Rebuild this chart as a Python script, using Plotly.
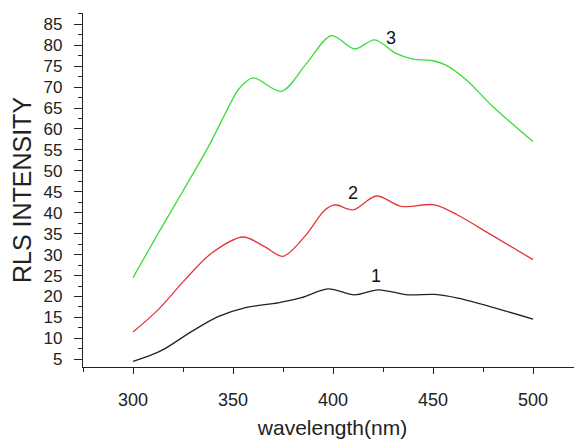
import plotly.graph_objects as go

wl1 = [300, 308, 315.8, 329.2, 342.5, 355.8, 372.5, 384.2, 397.5, 410.8, 422.5, 437.5, 450.8, 462.5, 500]
s1 = [4.5, 5.8, 7.5, 11.6, 15.2, 17.3, 18.5, 19.7, 21.8, 20.4, 21.6, 20.4, 20.5, 19.6, 14.6]

wl2 = [300, 312.5, 325.8, 339.2, 355, 365.8, 375, 385.8, 395.8, 400.8, 410, 421.7, 434.2, 450.8, 462.5, 479.2, 500]
s2 = [11.5, 16.8, 23.9, 30.3, 34.2, 31.9, 29.6, 34.3, 40.6, 41.9, 40.7, 44.0, 41.5, 41.9, 39.4, 34.7, 28.8]

wl3 = [300, 312.5, 325, 337.5, 347, 353, 360, 374.2, 386.7, 399.2, 410.8, 420.8, 431.7, 440, 450, 456.7, 466.7, 480, 500]
s3 = [24.5, 35.0, 45.2, 55.6, 64.5, 69.6, 72.2, 69.0, 75.6, 82.3, 79.1, 81.3, 78.0, 76.7, 76.3, 75.2, 71.7, 65.3, 57.0]

labels = ["1", "2", "3"]
label_x = [421.7, 410, 429.2]
label_y = [24.9, 44.6, 81.8]

fig = go.Figure()
for x, y, c in [(wl1, s1, "#222222"), (wl2, s2, "#e8353a"), (wl3, s3, "#3bdc3b")]:
    fig.add_trace(go.Scatter(x=x, y=y, mode="lines",
                             line=dict(color=c, width=1.3, shape="spline", smoothing=0.9),
                             showlegend=False))

for t, x, y in zip(labels, label_x, label_y):
    fig.add_annotation(x=x, y=y, text=t, showarrow=False,
                       font=dict(size=18, color="#111111", family="Liberation Sans, Arial"))

fig.update_layout(
    width=574, height=431,
    margin=dict(l=75, r=0, t=5, b=72),
    plot_bgcolor="white", paper_bgcolor="white",
    font=dict(family="Liberation Sans, Arial", color="#222222"),
    xaxis=dict(range=[275, 524.5], tickmode="linear", tick0=300, dtick=50, automargin=False,
               ticks="outside", ticklen=6, tickcolor="#222", showgrid=False, zeroline=False,
               showline=True, linecolor="#222", linewidth=1.2,
               tickfont=dict(size=18), ticklabelstandoff=10,
               minor=dict(ticks="outside", ticklen=4, dtick=25, tick0=275, tickcolor="#222"),
               title=dict(text="wavelength(nm)", font=dict(size=21), standoff=12)),
    yaxis=dict(range=[3.16, 87.7], tickmode="linear", tick0=5, dtick=5, automargin=False,
               ticks="outside", ticklen=8, tickcolor="#222", showgrid=False, zeroline=False,
               showline=True, linecolor="#222", linewidth=1.2,
               tickfont=dict(size=17), ticklabelstandoff=8,
               minor=dict(ticks="outside", ticklen=4, dtick=2.5, tick0=2.5, tickcolor="#222"),
               title=dict(text="RLS INTENSITY", font=dict(size=25), standoff=10)),
)

fig.write_html("out.html")
